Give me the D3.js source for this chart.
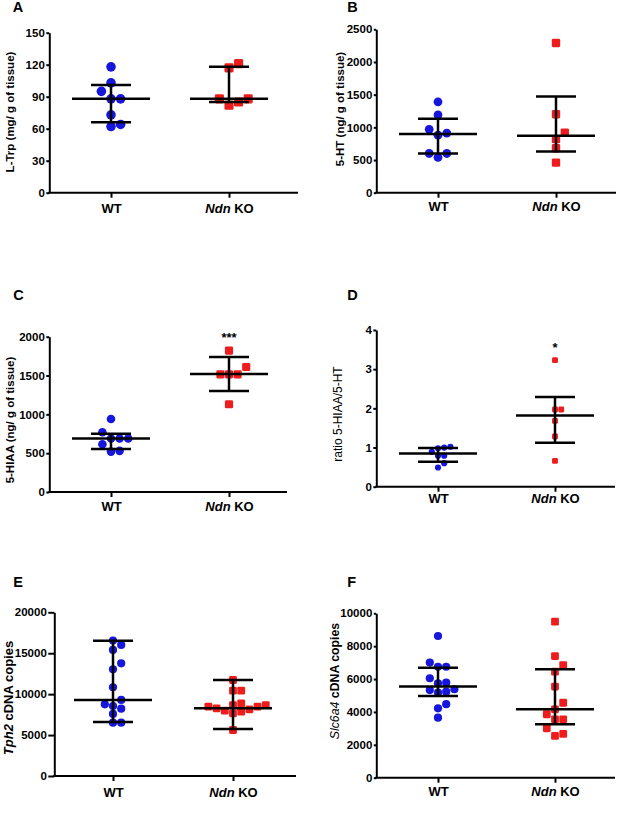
<!DOCTYPE html>
<html>
<head>
<meta charset="utf-8">
<script src="https://cdn.jsdelivr.net/npm/d3@7"></script>
<style>
  body { margin: 0; background: #fff; }
  svg { display: block; font-family: "Liberation Sans", Arial, sans-serif; }
</style>
</head>
<body>
<script>
// groups on every x axis
const groups = ['WT', 'Ndn KO'];

// A: L-Trp
const trpWT = [118, 103, 95, 88, 88, 73, 62, 64];
const trpKO = [121, 117, 88, 88, 82, 85];
const trpStats = [[88, 66, 101], [88, 85, 118]]; // centre, low, high
const trpTicks = [0, 30, 60, 90, 120, 150];

// B: 5-HT
const htWT = [1390, 1190, 970, 910, 880, 600, 600, 540];
const htKO = [2290, 1200, 920, 820, 680, 460];
const htStats = [[900, 600, 1130], [870, 630, 1470]];
const htTicks = [0, 500, 1000, 1500, 2000, 2500];

// C: 5-HIAA
const hiaaWT = [940, 770, 690, 690, 690, 615, 520, 530];
const hiaaKO = [1820, 1610, 1515, 1515, 1515, 1130];
const hiaaStats = [[690, 555, 750], [1520, 1300, 1740]];
const hiaaTicks = [0, 500, 1000, 1500, 2000];

// D: ratio
const ratioWT = [1.02, 0.98, 1.0, 0.89, 0.79, 0.79, 0.6, 0.49];
const ratioKO = [3.23, 1.97, 1.97, 1.68, 1.28, 0.66];
const ratioStats = [[0.85, 0.64, 0.99], [1.82, 1.12, 2.29]];
const ratioTicks = [0, 1, 2, 3, 4];

// E: Tph2
const tphWT = [16540, 16010, 15400, 13770, 13030, 10840, 9290, 8760, 8550, 8230, 7580, 6520, 6520];
const tphKO = [11730, 10420, 10420, 8880, 8670, 8470, 8150, 7860, 7660, 7980, 8270, 8470, 8670, 5620];
const tphStats = [[9290, 6600, 16530], [8270, 5740, 11730]];
const tphTicks = [0, 5000, 10000, 15000, 20000];

// F: Slc6a4
const slcWT = [8620, 7000, 6750, 6750, 6050, 5740, 5780, 5330, 5170, 5230, 5380, 4470, 4220, 3650];
const slcKO = [9490, 7400, 6850, 6450, 5540, 4560, 4160, 3860, 3550, 3550, 3000, 2540, 2660];
const slcStats = [[5550, 4970, 6690], [4160, 3250, 6600]];
const slcTicks = [0, 2000, 4000, 6000, 8000, 10000];

const blue = '#1616dc';
const red = '#ee1c1c';

const panels = [
  {letter: 'A', wt: trpWT, ko: trpKO, stats: trpStats, ticks: trpTicks,
   l: 49.3, r: 298, t: 32.7, b: 192.7, cx: [111, 229], rad: 4.8, catY: 20, tick: 3,
   lx: 12.7, ly: 12, tx: 9.5, ty: 112, tsize: 11.5,
   title: [{s: 'L-Trp (mg/ g of tissue)'}]},
  {letter: 'B', wt: htWT, ko: htKO, stats: htStats, ticks: htTicks,
   l: 376.3, r: 616, t: 29.3, b: 192.7, cx: [438, 556], rad: 4.4, catY: 18.5, tick: 2.5,
   lx: 347.3, ly: 12, tx: 339.5, ty: 109, tsize: 11.5,
   title: [{s: '5-HT (ng/ g of tissue)'}]},
  {letter: 'C', wt: hiaaWT, ko: hiaaKO, stats: hiaaStats, ticks: hiaaTicks,
   l: 49.3, r: 287, t: 336.7, b: 492, cx: [111, 229], rad: 4.3, catY: 19, tick: 3,
   lx: 13.3, ly: 300, tx: 9.5, ty: 420, tsize: 11.5, star: '***',
   title: [{s: '5-HIAA (ng/ g of tissue)'}]},
  {letter: 'D', wt: ratioWT, ko: ratioKO, stats: ratioStats, ticks: ratioTicks,
   l: 376.3, r: 615, t: 330, b: 486.7, cx: [438, 555], rad: 3.1, catY: 16, tick: 3,
   lx: 347.3, ly: 300, tx: 338, ty: 414, tsize: 12, star: '*',
   title: [{s: 'ratio 5-HIAA/5-HT', w: 'normal'}]},
  {letter: 'E', wt: tphWT, ko: tphKO, stats: tphStats, ticks: tphTicks,
   l: 54.3, r: 296, t: 612.3, b: 776, cx: [113, 233], rad: 4.1, catY: 21, tick: 6,
   lx: 13.3, ly: 587, tx: 8.5, ty: 698, tsize: 13,
   title: [{s: 'Tph2', i: true}, {s: ' cDNA copies'}]},
  {letter: 'F', wt: slcWT, ko: slcKO, stats: slcStats, ticks: slcTicks,
   l: 376.3, r: 615, t: 613.3, b: 777.7, cx: [438, 555], rad: 4.1, catY: 18.5, tick: 2.5,
   lx: 347.3, ly: 587, tx: 334.7, ty: 681, tsize: 12.3,
   title: [{s: 'Slc6a4', i: true, w: 'normal'}, {s: ' cDNA copies'}]}
];

const svg = d3.select('body').append('svg').attr('width', 617).attr('height', 823);

// simple beeswarm: place from the lowest value up, step sideways on overlap
function swarm(values, y, cx, r) {
  const pts = values.map(v => ({v: v, y: y(v)})).sort((a, b) => b.y - a.y);
  const placed = [];
  const step = 2 * r;
  pts.forEach(p => {
    for (let k = 0; k < 30; k++) {
      const off = k === 0 ? 0 : (k % 2 ? 1 : -1) * Math.ceil(k / 2) * step;
      const ok = placed.every(q => Math.hypot(q.x - (cx + off), q.y - p.y) >= 2 * r * 0.93);
      if (ok) { p.x = cx + off; break; }
    }
    placed.push(p);
  });
  return placed;
}

panels.forEach(p => {
  const g = svg.append('g');
  const y = d3.scaleLinear().domain([0, d3.max(p.ticks)]).range([p.b, p.t]);
  const x = d3.scalePoint().domain(groups).range(p.cx);

  // panel letter
  g.append('text').attr('x', p.lx).attr('y', p.ly)
    .attr('font-size', 14.5).attr('font-weight', 'bold').text(p.letter);

  // y axis
  const ya = g.append('g').attr('transform', 'translate(' + p.l + ',0)')
    .call(d3.axisLeft(y).tickValues(p.ticks).tickFormat(d => String(d))
      .tickSize(p.tick).tickSizeOuter(0).tickPadding(1.5));
  ya.select('.domain').attr('stroke', '#000').attr('stroke-width', 2);
  ya.selectAll('.tick line').attr('stroke', '#000').attr('stroke-width', 2);
  ya.selectAll('.tick text').attr('font-size', 11.5).attr('font-weight', 'bold')
    .attr('fill', '#000').attr('font-family', null);

  // x axis
  g.append('line').attr('x1', p.l - 1).attr('x2', p.r).attr('y1', p.b).attr('y2', p.b)
    .attr('stroke', '#000').attr('stroke-width', 2);
  const xa = g.append('g').attr('transform', 'translate(0,' + p.b + ')')
    .call(d3.axisBottom(x).tickSize(5).tickSizeOuter(0));
  xa.select('.domain').remove();
  xa.selectAll('.tick line').attr('stroke', '#000').attr('stroke-width', 2);
  xa.selectAll('.tick text').attr('font-size', 13).attr('font-weight', 'bold')
    .attr('fill', '#000').attr('font-family', null)
    .attr('y', p.catY).attr('dy', 0)
    .each(function(d) {
      const t = d3.select(this).text(null);
      if (d === 'Ndn KO') {
        t.append('tspan').attr('font-style', 'italic').text('Ndn');
        t.append('tspan').text(' KO');
      } else {
        t.text(d);
      }
    });

  // y title
  const tt = g.append('text')
    .attr('transform', 'translate(' + p.tx + ',' + p.ty + ') rotate(-90)')
    .attr('text-anchor', 'middle').attr('dy', '0.35em')
    .attr('font-size', p.tsize).attr('font-weight', 'bold');
  p.title.forEach(s => {
    tt.append('tspan').attr('font-style', s.i ? 'italic' : null)
      .attr('font-weight', s.w || null).text(s.s);
  });

  // points
  const wtPts = swarm(p.wt, y, x('WT'), p.rad);
  const koPts = swarm(p.ko, y, x('Ndn KO'), p.rad);
  g.selectAll('circle.wt').data(wtPts).enter().append('circle')
    .attr('class', 'wt').attr('cx', d => d.x).attr('cy', d => d.y)
    .attr('r', p.rad).attr('fill', blue);
  const side = p.rad * 1.9;
  g.selectAll('rect.ko').data(koPts).enter().append('rect')
    .attr('class', 'ko').attr('x', d => d.x - side / 2).attr('y', d => d.y - side / 2)
    .attr('width', side).attr('height', side).attr('rx', 1.4).attr('fill', red);

  // centre line and error bars
  p.stats.forEach((s, i) => {
    const cx = x(groups[i]);
    const ln = (x1, x2, y1, y2) => g.append('line').attr('x1', x1).attr('x2', x2)
      .attr('y1', y1).attr('y2', y2).attr('stroke', '#000').attr('stroke-width', 2.5);
    ln(cx, cx, y(s[1]), y(s[2]));
    ln(cx - 39, cx + 39, y(s[0]), y(s[0]));
    ln(cx - 20, cx + 20, y(s[1]), y(s[1]));
    ln(cx - 20, cx + 20, y(s[2]), y(s[2]));
  });

  // significance
  if (p.star) {
    g.append('text').attr('x', x('Ndn KO')).attr('y', p.star === '*' ? 352 : 342)
      .attr('text-anchor', 'middle').attr('font-size', 13).attr('font-weight', 'bold')
      .text(p.star);
  }
});
</script>
</body>
</html>
